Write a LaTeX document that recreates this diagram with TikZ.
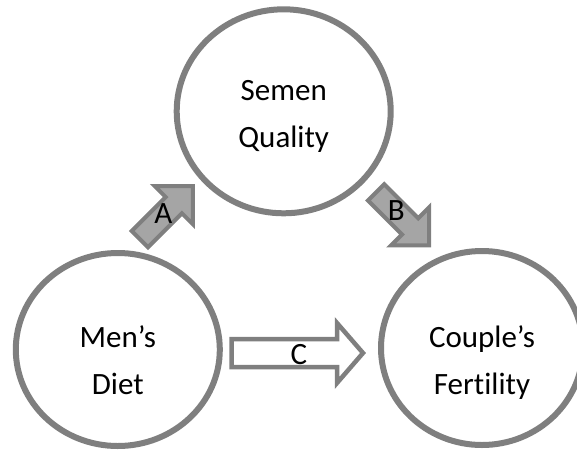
\documentclass[tikz,border=0pt]{standalone}
\usepackage{fontspec}
\setmainfont{Carlito}[Ligatures=NoCommon]
\usetikzlibrary{shapes.geometric}
\definecolor{ringgray}{HTML}{7F7F7F}
\definecolor{blockfill}{HTML}{A5A5A5}
\begin{document}
\begin{tikzpicture}[x=1pt,y=-1pt,
  ring/.style={ellipse, draw=ringgray, line width=6pt, inner sep=0pt, fill=white},
  txt/.style={anchor=base, font=\fontsize{31}{37}\selectfont, inner sep=0pt},
  blockarrow/.style={draw=ringgray, line width=4pt, fill=blockfill, line join=miter},
  openarrow/.style={draw=ringgray, line width=4.5pt, fill=white, line join=miter}]
\useasboundingbox (0,0) rectangle (577,455);
% circles
\node[ring, minimum width=214pt, minimum height=204pt] (sq) at (283.7,111.3) {};
\node[ring, minimum width=204pt, minimum height=193pt] (md) at (117.8,349.5) {};
\node[ring, minimum width=202pt, minimum height=194pt] (cf) at (482,348) {};
% texts
\node[txt] (sq1) at (283.7,100) {Semen};
\node[txt] (sq2) at (283.7,147.7) {Quality};
\node[txt] (md1) at (117.8,347) {Men’s};
\node[txt] (md2) at (117.8,394) {Diet};
\node[txt] (cf1) at (482,347) {Couple’s};
\node[txt] (cf2) at (482,394) {Fertility};
% arrow A
\begin{scope}[shift={(166.75,212.25)}, rotate=45]
  \draw[blockarrow] (-38,-11.5) -- (10,-11.5) -- (10,-27) -- (37,0) -- (10,27) -- (10,11.5) -- (-38,11.5) -- cycle;
\end{scope}
% arrow B
\begin{scope}[shift={(403,219.3)}, rotate=-45]
  \draw[blockarrow] (-38,-11.5) -- (10,-11.5) -- (10,-27) -- (37,0) -- (10,27) -- (10,11.5) -- (-38,11.5) -- cycle;
\end{scope}
% arrow C
\draw[openarrow] (231.5,339) -- (337,339) -- (337,323) -- (363,353) -- (337,383) -- (337,367) -- (231.5,367) -- cycle;
% labels
\node[txt] (la) at (163.3,223.3) {A};
\node[txt] (lb) at (396.3,220) {B};
\node[txt] (lc) at (299,364) {C};
\end{tikzpicture}
\end{document}
